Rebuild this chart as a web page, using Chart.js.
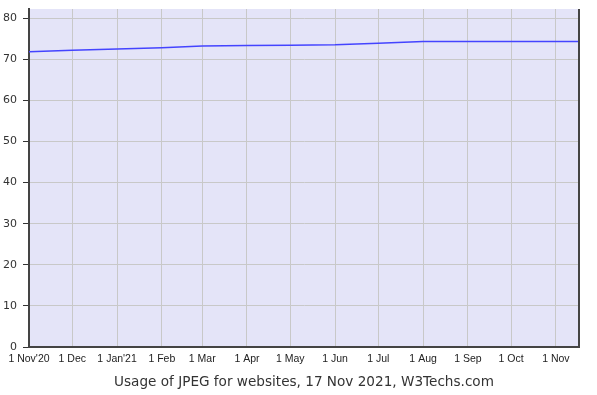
<!DOCTYPE html>
<html>
<head>
<meta charset="utf-8">
<script src="https://cdn.jsdelivr.net/npm/chart.js@4/dist/chart.umd.min.js"></script>
<style>
  html, body { margin: 0; padding: 0; background: #fff; }
  #wrap { width: 597px; height: 395px; }
</style>
</head>
<body>
<div id="wrap"><canvas id="usageChart" width="597" height="395"></canvas></div>
<script>
// days since 1 Nov 2020
const days = [0, 30, 61, 92, 120, 151, 181, 212, 242, 273, 304, 334, 365, 381];
const jpegUsage = [71.8, 72.2, 72.5, 72.8, 73.2, 73.3, 73.4, 73.5, 73.9, 74.3, 74.3, 74.3, 74.3, 74.3];

const monthTicks = [0, 30, 61, 92, 120, 151, 181, 212, 242, 273, 304, 334, 365];
const monthLabels = ["1 Nov'20", "1 Dec", "1 Jan'21", "1 Feb", "1 Mar", "1 Apr", "1 May",
    "1 Jun", "1 Jul", "1 Aug", "1 Sep", "1 Oct", "1 Nov"];
const yTicks = [0, 10, 20, 30, 40, 50, 60, 70, 80];

// fill plot area and draw right border
const plotFrame = {
    id: 'plotFrame',
    beforeDraw(chart) {
        const { ctx, chartArea: a } = chart;
        ctx.save();
        ctx.fillStyle = '#e4e4f8';
        ctx.fillRect(a.left, a.top, a.right - a.left, a.bottom - a.top);
        ctx.restore();
    },
    afterDraw(chart) {
        const { ctx, chartArea: a } = chart;
        ctx.save();
        ctx.strokeStyle = '#444';
        ctx.lineWidth = 2;
        ctx.beginPath();
        ctx.moveTo(a.right, a.top);
        ctx.lineTo(a.right, a.bottom);
        ctx.stroke();
        ctx.restore();
    }
};

const ctx = document.getElementById('usageChart').getContext('2d');
const usageChart = new Chart(ctx, {
    type: 'line',
    data: {
        datasets: [{
            label: 'JPEG',
            data: days.map((d, i) => ({ x: d, y: jpegUsage[i] })),
            borderColor: '#4444ff',
            borderWidth: 1.5,
            pointRadius: 0,
            tension: 0,
            fill: false
        }]
    },
    options: {
        responsive: false,
        animation: false,
        layout: { padding: { top: 9, right: 18, left: 0, bottom: 3 } },
        plugins: {
            legend: { display: false },
            tooltip: { enabled: false }
        },
        scales: {
            x: {
                type: 'linear',
                min: 0,
                max: 381,
                afterBuildTicks: axis => { axis.ticks = monthTicks.map(v => ({ value: v })); },
                ticks: {
                    autoSkip: false,
                    maxRotation: 0,
                    padding: 6,
                    color: '#222',
                    font: { family: 'Liberation Sans', size: 10.5 },
                    callback: (v, i) => monthLabels[i]
                },
                grid: { color: '#c8c8c8', drawTicks: false },
                border: { color: '#444', width: 2 },
                title: {
                    display: true,
                    text: 'Usage of JPEG for websites, 17 Nov 2021, W3Techs.com',
                    color: '#333',
                    font: { family: 'DejaVu Sans', size: 13.6 },
                    padding: { top: 3, bottom: 1 }
                }
            },
            y: {
                min: 0,
                max: 82.2,
                afterBuildTicks: axis => { axis.ticks = yTicks.map(v => ({ value: v })); },
                afterFit: axis => {
                    axis.width = 29;
                    axis.paddingTop = 0;
                    axis.paddingBottom = 0;
                },
                ticks: {
                    padding: 6,
                    color: '#333',
                    font: { family: 'DejaVu Sans', size: 11 }
                },
                grid: { color: '#c8c8c8', tickColor: '#333', tickLength: 6 },
                border: { color: '#444', width: 2 }
            }
        }
    },
    plugins: [plotFrame]
});
</script>
</body>
</html>
